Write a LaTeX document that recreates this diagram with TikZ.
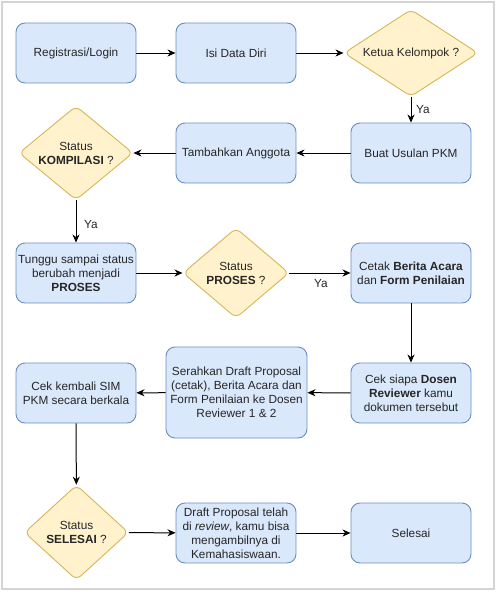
\documentclass[tikz,border=0pt]{standalone}
\usepackage{fontspec}
\setmainfont{Liberation Sans}
\usetikzlibrary{shapes.geometric,arrows.meta}
\definecolor{boxfill}{HTML}{DAE8FC}
\definecolor{boxline}{HTML}{6C8EBF}
\definecolor{decfill}{HTML}{FFF2CC}
\definecolor{decline}{HTML}{D6B656}
\definecolor{framegray}{HTML}{D4D4D4}
\tikzset{
  procbox/.style={draw=boxline, fill=boxfill, rounded corners=9pt, line width=0.9pt,
    minimum width=120pt, minimum height=60pt, align=center, inner sep=2pt,
    font=\fontsize{11.8}{14}\selectfont, text=black!85},
  decbox/.style={diamond, draw=decline, fill=decfill, rounded corners=6pt, line width=0.9pt,
    align=center, inner sep=0pt, font=\fontsize{11.8}{14}\selectfont, text=black!85},
  flow/.style={-{Stealth[length=8pt,width=7pt,inset=2.5pt]}, line width=1pt},
  yalabel/.style={font=\fontsize{11.8}{14}\selectfont, text=black!85, inner sep=0pt}
}
\begin{document}
\begin{tikzpicture}[x=1pt,y=-1pt]
\useasboundingbox (0,0) rectangle (497,592);
\draw[framegray, line width=2pt] (2,2) rectangle (494,589);

% row 1
\node[procbox] (reg) at (76,53) {Registrasi/Login};
\node[procbox] (isi) at (236,53) {Isi Data Diri};
\node[decbox, aspect=1.54, minimum width=134pt, minimum height=87pt] (ketua) at (411,53) {Ketua Kelompok ?};
% row 2
\node[procbox] (buat) at (411,153) {Buat Usulan PKM};
\node[procbox] (tambah) at (236,153) {Tambahkan Anggota};
\node[decbox, aspect=1.21, minimum width=114pt, minimum height=94pt] (kompil) at (76,153) {Status\\\textbf{KOMPILASI} ?};
% row 3
\node[procbox] (tunggu) at (76,273) {Tunggu sampai status\\berubah menjadi\\\textbf{PROSES}};
\node[decbox, aspect=1.18, minimum width=106pt, minimum height=90pt] (proses) at (236,273) {Status\\\textbf{PROSES} ?};
\node[procbox] (cetak) at (411,273) {Cetak \textbf{Berita Acara}\\dan \textbf{Form Penilaian}};
% row 4
\node[procbox] (ceksiapa) at (411,393) {Cek siapa \textbf{Dosen}\\\textbf{Reviewer} kamu\\dokumen tersebut};
\node[procbox, minimum width=141pt, minimum height=91pt] (serah) at (236.5,392.5) {Serahkan Draft Proposal\\(cetak), Berita Acara dan\\Form Penilaian ke Dosen\\Reviewer 1 \& 2};
\node[procbox] (cekkembali) at (76,393) {Cek kembali SIM\\PKM secara berkala};
% row 5
\node[decbox, aspect=1.09, minimum width=104pt, minimum height=95pt] (selesaiq) at (76.5,532.5) {Status\\\textbf{SELESAI} ?};
\node[procbox] (draft) at (236,533) {Draft Proposal telah\\di \textit{review}, kamu bisa\\mengambilnya di\\Kemahasiswaan.};
\node[procbox] (selesai) at (411,533) {Selesai};

% connectors
\draw[flow] (reg) -- (isi);
\draw[flow] (isi) -- (ketua);
\draw[flow] (ketua) -- (buat);
\draw[flow] (buat) -- (tambah);
\draw[flow] (tambah) -- (kompil);
\draw[flow] (kompil) -- (tunggu);
\draw[flow] (tunggu) -- (proses);
\draw[flow] (proses) -- (cetak);
\draw[flow] (cetak) -- (ceksiapa);
\draw[flow] (ceksiapa) -- (serah);
\draw[flow] (serah) -- (cekkembali);
\draw[flow] (cekkembali) -- (selesaiq);
\draw[flow] (selesaiq) -- (draft);
\draw[flow] (draft) -- (selesai);

% labels
\node[yalabel] (ya1) at (423,109) {Ya};
\node[yalabel] (ya2) at (91,224) {Ya};
\node[yalabel] (ya3) at (321,283) {Ya};
\end{tikzpicture}
\end{document}
